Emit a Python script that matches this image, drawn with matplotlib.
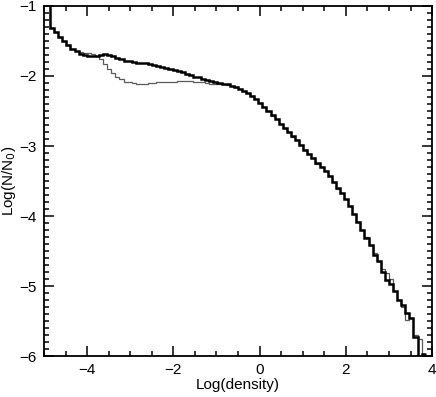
import numpy as np
import matplotlib
matplotlib.use("Agg")
import matplotlib.pyplot as plt
from matplotlib.ticker import MultipleLocator

# bin layout (log density)
bin_start = -4.955
bin_width = 0.0947

thick_vals = [
    -0.90, -1.31, -1.37, -1.45, -1.50, -1.56, -1.61, -1.65, -1.68, -1.70,
    -1.71, -1.71, -1.71, -1.70, -1.69, -1.70, -1.72, -1.74, -1.76, -1.78,
    -1.79, -1.80, -1.81, -1.82, -1.82, -1.83, -1.84, -1.86, -1.87, -1.88,
    -1.90, -1.91, -1.93, -1.95, -1.97, -1.99, -2.01, -2.02, -2.04, -2.06,
    -2.07, -2.09, -2.10, -2.11, -2.12, -2.14, -2.16, -2.18, -2.21, -2.24,
    -2.28, -2.33, -2.38, -2.44, -2.50, -2.56, -2.62, -2.68, -2.74, -2.80,
    -2.86, -2.92, -2.98, -3.05, -3.11, -3.17, -3.24, -3.30, -3.36, -3.43,
    -3.52, -3.60, -3.67, -3.75, -3.86, -3.97, -4.08, -4.20, -4.32, -4.42,
    -4.55, -4.64, -4.80, -4.92, -4.97, -5.07, -5.20, -5.27, -5.38, -5.45,
    -5.73, -7.00, -5.97,
]

thin_vals = [
    -0.90, -1.31, -1.37, -1.45, -1.50, -1.56, -1.61, -1.65, -1.66, -1.67,
    -1.67, -1.68, -1.72, -1.76, -1.83, -1.90, -1.96, -2.01, -2.05, -2.08,
    -2.09, -2.10, -2.11, -2.11, -2.11, -2.10, -2.10, -2.09, -2.09, -2.08,
    -2.08, -2.08, -2.07, -2.07, -2.07, -2.07, -2.08, -2.08, -2.09, -2.10,
    -2.11, -2.11, -2.12, -2.12, -2.13, -2.14, -2.16, -2.19, -2.21, -2.24,
    -2.28, -2.33, -2.38, -2.44, -2.50, -2.57, -2.62, -2.68, -2.74, -2.80,
    -2.87, -2.92, -2.98, -3.05, -3.11, -3.17, -3.25, -3.30, -3.36, -3.43,
    -3.52, -3.61, -3.67, -3.75, -3.86, -3.97, -4.08, -4.20, -4.30, -4.42,
    -4.53, -4.64, -4.75, -4.82, -4.90, -5.07, -5.20, -5.30, -5.49, -5.45,
    -5.70, -5.75, -7.00,
]

x_ticks = [-4, -2, 0, 2, 4]
y_ticks = [-1, -2, -3, -4, -5, -6]

edges = bin_start + bin_width * np.arange(len(thick_vals) + 1)

plt.rcParams['font.family'] = ['Liberation Sans', 'DejaVu Sans']

fig = plt.figure(figsize=(4.36, 3.97), dpi=100)
ax = fig.add_axes([0.101, 0.103, 0.890, 0.882])

ax.stairs(thin_vals, edges, baseline=None, color='0.35', linewidth=0.9)
ax.stairs(thick_vals, edges, baseline=None, color='black', linewidth=1.8)

ax.set_xlim(-5, 4)
ax.set_ylim(-6, -1)
ax.set_xticks(x_ticks)
ax.set_yticks(y_ticks)
ax.xaxis.set_minor_locator(MultipleLocator(0.5))
ax.yaxis.set_minor_locator(MultipleLocator(0.1))
ax.tick_params(which='both', direction='in', top=True, right=True,
               labelsize=11, width=1.1, pad=5)
ax.tick_params(which='major', length=7)
ax.tick_params(which='minor', length=3.5)
for s in ax.spines.values():
    s.set_linewidth(1.3)

ax.set_xlabel('Log(density)', fontsize=11, labelpad=1)
ax.set_ylabel('Log(N/N$_0$)', fontsize=11)
ax.yaxis.set_label_coords(-0.066, 0.5)

fig.savefig('out.png', dpi=100)
